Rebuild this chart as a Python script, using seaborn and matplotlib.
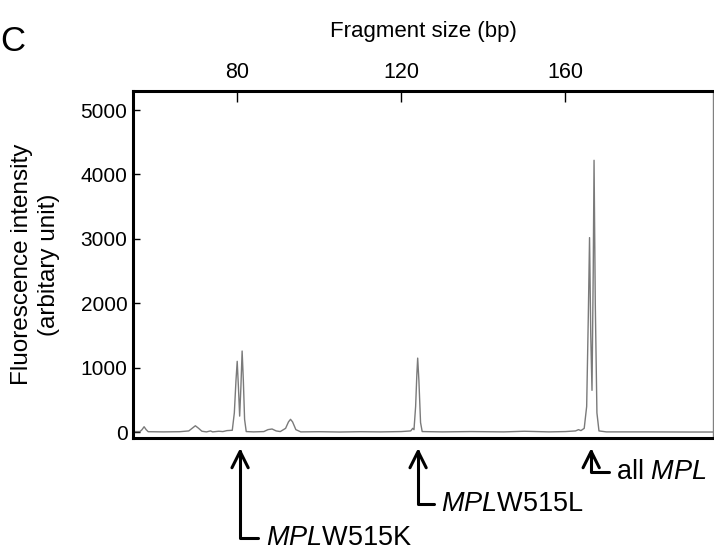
import numpy as np
import pandas as pd
import matplotlib
matplotlib.use("Agg")
import matplotlib.pyplot as plt
import seaborn as sns

# Electropherogram trace (fragment size in bp, intensity)
SIZE_BP = [54.7, 56.3, 56.8, 57.3, 57.8, 58.3, 62.0, 66.0, 68.2, 69.0, 69.8, 70.6,
           71.4, 72.5, 73.5, 74.0, 75.5, 76.5, 77.5, 78.8, 79.3, 79.7, 80.0, 80.3,
           80.6, 80.9, 81.2, 81.5, 81.8, 82.2, 84.0, 86.5, 87.5, 88.5, 89.5, 90.5,
           91.8, 92.5, 93.0, 93.5, 94.3, 95.5, 100.0, 105.0, 110.0, 115.0, 120.0,
           122.3, 122.8, 123.1, 123.5, 123.8, 124.0, 124.3, 124.7, 125.1, 130.0,
           137.0, 145.0, 150.0, 156.0, 160.0, 162.5, 163.2, 163.8, 164.6, 165.2,
           165.6, 165.9, 166.2, 166.5, 166.8, 167.0, 167.3, 167.7, 168.2, 170.0,
           180.0, 190.0, 196.0]
INTENSITY = [10, 10, 40, 85, 40, 8, 5, 8, 20, 60, 100, 60,
             15, 5, 20, 5, 15, 10, 25, 30, 300, 800, 1100, 700,
             250, 700, 1260, 800, 200, 10, 5, 10, 40, 50, 20, 10,
             60, 160, 200, 160, 40, 5, 8, 3, 8, 5, 10,
             20, 60, 40, 400, 900, 1150, 800, 150, 10, 5,
             10, 5, 15, 5, 10, 20, 40, 25, 60, 400,
             1800, 3020, 1500, 650, 2500, 4220, 2000, 300, 20, 5,
             5, 3, 3]

X_TICKS = [80, 120, 160]
Y_TICKS = [0, 1000, 2000, 3000, 4000, 5000]

# peak annotations: label, arrow position (bp), text x (bp), text y (axes fraction)
PEAK_LABELS = [r"$\mathit{MPL}$W515K", r"$\mathit{MPL}$W515L", r"all $\mathit{MPL}$"]
PEAK_POS = [80.7, 124.1, 166.3]
LABEL_X = [87.0, 129.8, 172.4]
LABEL_Y = [-0.288, -0.190, -0.098]

sns.set_theme(style="ticks")
plt.rcParams["font.family"] = ["Liberation Sans", "DejaVu Sans"]
plt.rcParams["mathtext.fontset"] = "custom"
plt.rcParams["mathtext.rm"] = "Liberation Sans"
plt.rcParams["mathtext.it"] = "Liberation Sans:italic"
plt.rcParams["text.color"] = "black"
plt.rcParams["axes.labelcolor"] = "black"

df = pd.DataFrame({"size": SIZE_BP, "intensity": INTENSITY})

fig = plt.figure(figsize=(7.14, 5.52), dpi=100)
ax = fig.add_axes([0.1863, 0.2065, 0.8123, 0.6286])

sns.lineplot(data=df, x="size", y="intensity", ax=ax, color="#7a7a7a",
             linewidth=1.0, estimator=None, sort=False)

ax.set_xlim(54.6, 196)
ax.set_ylim(-90, 5295)
ax.set_xticks(X_TICKS)
ax.set_yticks(Y_TICKS)

ax.xaxis.tick_top()
ax.xaxis.set_label_position("top")
ax.tick_params(axis="x", direction="in", length=8, width=1.0, pad=6,
               labelsize=15.5, colors="black")
ax.tick_params(axis="y", direction="in", length=5, width=1.0, pad=4,
               labelsize=15, colors="black")
ax.set_xlabel("Fragment size (bp)", fontsize=16, labelpad=18)
ax.set_ylabel("Fluorescence intensity\n(arbitary unit)", fontsize=17.5,
              labelpad=15, linespacing=1.3)

for side in ["top", "left", "bottom"]:
    ax.spines[side].set_linewidth(2.2)
    ax.spines[side].set_color("black")
ax.spines["right"].set_visible(True)
ax.spines["right"].set_linewidth(1.0)
ax.spines["right"].set_color("#808080")

for label, pos, tx, ty in zip(PEAK_LABELS, PEAK_POS, LABEL_X, LABEL_Y):
    ax.annotate(label, xy=(pos, -0.029), xycoords=("data", "axes fraction"),
                xytext=(tx, ty), textcoords=("data", "axes fraction"),
                ha="left", va="center", fontsize=19.5, annotation_clip=False,
                arrowprops=dict(arrowstyle="->,head_length=0.6,head_width=0.3",
                                connectionstyle="angle,angleA=0,angleB=90,rad=0",
                                lw=2.2, color="black", shrinkA=3, shrinkB=0))

fig.text(0.0, 0.925, "C", fontsize=25, ha="left", va="center")

fig.savefig("out.png", dpi=100)
